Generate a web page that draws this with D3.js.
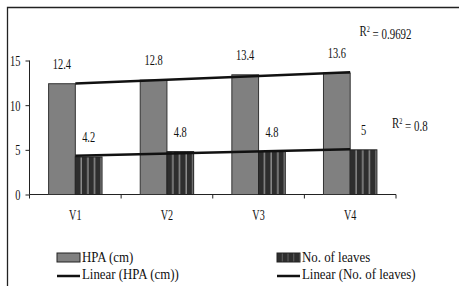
<!DOCTYPE html>
<html>
<head>
<meta charset="utf-8">
<script src="https://cdn.jsdelivr.net/npm/d3@7"></script>
<style>
  body { margin: 0; background: #fff; }
  svg text { font-family: "Liberation Serif", "Times New Roman", serif; fill: #111; }
</style>
</head>
<body>
<div id="chart"></div>
<script>
// chart data
var categories = ["V1", "V2", "V3", "V4"];
var series = ["HPA (cm)", "No. of leaves"];
var hpa = [12.4, 12.8, 13.4, 13.6];
var leaves = [4.2, 4.8, 4.8, 5];
// linear trend values at V1 and V4
var hpaTrend = [12.42, 13.68];
var leavesTrend = [4.34, 5.06];
var r2Labels = ["0.9692", "0.8"];
var yTicks = [0, 5, 10, 15];

var svgWidth = 459, svgHeight = 286;

var svg = d3.select("#chart")
  .append("svg")
  .attr("width", svgWidth)
  .attr("height", svgHeight);

// frame (clipped at right and bottom)
svg.append("path")
  .attr("d", "M7.5,286 V7.5 H459")
  .attr("fill", "none")
  .attr("stroke", "#222")
  .attr("stroke-width", 1.3);

var defs = svg.append("defs");
var pat = defs.append("pattern")
  .attr("id", "stripes")
  .attr("patternUnits", "objectBoundingBox")
  .attr("patternContentUnits", "userSpaceOnUse")
  .attr("width", 0.25)
  .attr("height", 1);
pat.append("rect").attr("width", 20).attr("height", 400).attr("fill", "#2e2e2e");
pat.append("rect").attr("x", 5.2).attr("width", 1.6).attr("height", 400).attr("fill", "#8c8c8c");

var x0 = d3.scaleBand()
  .domain(categories)
  .range([29.5, 396])
  .paddingInner(0)
  .paddingOuter(0);

var x1 = d3.scaleBand()
  .domain(series)
  .range([0, x0.bandwidth()])
  .paddingInner(0)
  .paddingOuter(0.715);

var y = d3.scaleLinear()
  .domain([0, 15])
  .range([194.5, 60.5]);

// helper for condensed text
function squeeze(sel, sx) {
  sel.attr("transform", function() {
    var t = d3.select(this);
    var xx = +t.attr("x"), yy = +t.attr("y");
    return "translate(" + xx + "," + yy + ") scale(" + sx + ",1) translate(" + (-xx) + "," + (-yy) + ")";
  });
}

// y axis
var leftAxis = d3.axisLeft(y).tickValues(yTicks).tickSize(4).tickPadding(5);
var gy = svg.append("g")
  .attr("transform", "translate(29.5,0)")
  .call(leftAxis);
gy.select(".domain").attr("stroke", "#222").attr("d", "M0,60.5V194.5");
gy.selectAll(".tick line").attr("stroke", "#222");
gy.selectAll(".tick text")
  .style("font-size", "14.5px")
  .attr("fill", "#111")
  .attr("font-family", "Liberation Serif")
  .attr("dy", "0.34em")
  .attr("transform", "translate(-9,0) scale(0.72,1) translate(9,0)");

// x axis
svg.append("line")
  .attr("x1", x0.range()[0]).attr("x2", x0.range()[1])
  .attr("y1", y(0)).attr("y2", y(0))
  .attr("stroke", "#222");
var edges = categories.map(function(c) { return x0(c); }).concat([x0.range()[1]]);
svg.selectAll(".xtick")
  .data(edges)
  .enter().append("line")
  .attr("x1", d => d).attr("x2", d => d)
  .attr("y1", y(0)).attr("y2", y(0) + 4)
  .attr("stroke", "#222");
svg.selectAll(".xlab")
  .data(categories)
  .enter().append("text")
  .attr("x", d => x0(d) + x0.bandwidth() / 2)
  .attr("y", 220)
  .attr("text-anchor", "middle")
  .style("font-size", "14.5px")
  .text(d => d)
  .call(squeeze, 0.7);

// bars
var groups = svg.selectAll(".grp")
  .data(categories)
  .enter().append("g")
  .attr("transform", d => "translate(" + x0(d) + ",0)");

groups.append("rect")
  .attr("x", x1(series[0]))
  .attr("width", x1.bandwidth())
  .attr("y", (d, i) => y(hpa[i]))
  .attr("height", (d, i) => y(0) - y(hpa[i]))
  .attr("fill", "#808080")
  .attr("stroke", "#333")
  .attr("stroke-width", 1);

groups.append("rect")
  .attr("x", x1(series[1]))
  .attr("width", x1.bandwidth())
  .attr("y", (d, i) => y(leaves[i]))
  .attr("height", (d, i) => y(0) - y(leaves[i]))
  .attr("fill", "url(#stripes)")
  .attr("stroke", "#222")
  .attr("stroke-width", 1);

// value labels
groups.append("text")
  .attr("x", x1(series[0]) + x1.bandwidth() / 2)
  .attr("y", (d, i) => y(hpa[i]) - 15)
  .attr("text-anchor", "middle")
  .style("font-size", "14.5px")
  .text((d, i) => hpa[i])
  .call(squeeze, 0.72);

groups.append("text")
  .attr("x", x1(series[1]) + x1.bandwidth() / 2)
  .attr("y", (d, i) => y(leaves[i]) - 15)
  .attr("text-anchor", "middle")
  .style("font-size", "14.5px")
  .text((d, i) => leaves[i])
  .call(squeeze, 0.72);

// trend lines
var cx = function(c) { return x0(c) + x0.bandwidth() / 2; };
var ends = [categories[0], categories[categories.length - 1]];
[hpaTrend, leavesTrend].forEach(function(tr) {
  svg.append("line")
    .attr("x1", cx(ends[0])).attr("y1", y(tr[0]))
    .attr("x2", cx(ends[1])).attr("y2", y(tr[1]))
    .attr("stroke", "#111")
    .attr("stroke-width", 2.5);
});

// R² labels
var r2Pos = [[359.5, 36], [392, 128]];
r2Labels.forEach(function(lbl, i) {
  var t = svg.append("text")
    .attr("x", r2Pos[i][0])
    .attr("y", r2Pos[i][1])
    .style("font-size", "14px");
  t.append("tspan").text("R");
  t.append("tspan").attr("dy", "-0.45em").style("font-size", "8px").text("2");
  t.append("tspan").attr("dy", "0.45em").text(" = " + lbl);
  t.call(squeeze, 0.78);
});

// legend
var legend = [
  { x: 57, kind: "bar", fill: "#808080", label: series[0] },
  { x: 277, kind: "bar", fill: "url(#stripes)", label: series[1] },
  { x: 57, kind: "line", label: "Linear (" + series[0] + ")" },
  { x: 277, kind: "line", label: "Linear (" + series[1] + ")" }
];
legend.forEach(function(l) {
  if (l.kind === "bar") {
    svg.append("rect")
      .attr("x", l.x).attr("y", 253)
      .attr("width", 23).attr("height", 9)
      .attr("fill", l.fill)
      .attr("stroke", "#222");
    svg.append("text")
      .attr("x", l.x + 25).attr("y", 262.5)
      .style("font-size", "14px")
      .text(l.label)
      .call(squeeze, 0.92);
  } else {
    svg.append("line")
      .attr("x1", l.x).attr("x2", l.x + 23)
      .attr("y1", 276).attr("y2", 276)
      .attr("stroke", "#111")
      .attr("stroke-width", 2.5);
    svg.append("text")
      .attr("x", l.x + 25).attr("y", 279.5)
      .style("font-size", "14px")
      .text(l.label)
      .call(squeeze, 0.92);
  }
});
</script>
</body>
</html>
